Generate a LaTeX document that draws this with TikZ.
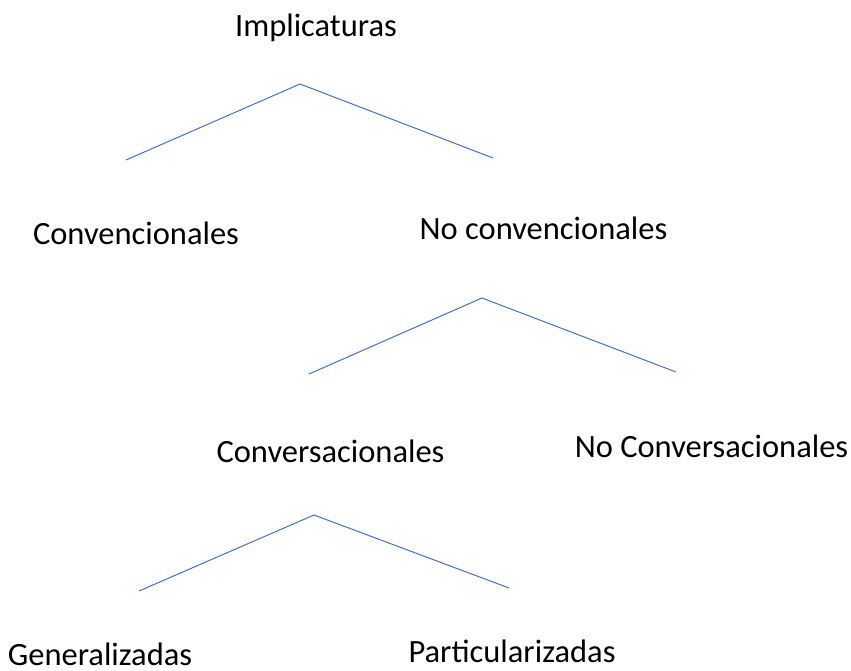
\documentclass[tikz,border=0pt]{standalone}
\usepackage{fontspec}
\setmainfont{Carlito}
\usepackage{xcolor}
\definecolor{ramaazul}{HTML}{4472C4}

\begin{document}
\begin{tikzpicture}[x=1pt,y=-1pt,
		termino/.style={font=\fontsize{32.5}{38}\selectfont,inner sep=0pt,anchor=base},
		rama/.style={draw=ramaazul,line width=1pt}]
			\useasboundingbox (0,0) rectangle (851,671);
			% terminos
			\node[termino] (impl) at (316,37) {Implicaturas};
			\node[termino] (conv) at (136,244) {Convencionales};
			\node[termino] (noconv) at (543.5,239) {No convencionales};
			\node[termino] (convers) at (330.5,462) {Conversacionales};
			\node[termino] (noconvers) at (711.5,457) {No Conversacionales};
			\node[termino] (gen) at (100,665) {Generalizadas};
			\node[termino] (part) at (512,662) {Particularizadas};
			% ramas
			\coordinate (implA) at (300,84);
			\coordinate (implI) at (126,160);
			\coordinate (implD) at (493,158);
			\coordinate (noconvA) at (482,298);
			\coordinate (noconvI) at (309,374);
			\coordinate (noconvD) at (676,372);
			\coordinate (conversA) at (314,515);
			\coordinate (conversI) at (139,591);
			\coordinate (conversD) at (509,588);
			\draw[rama] (implI) -- (implA) -- (implD);
			\draw[rama] (noconvI) -- (noconvA) -- (noconvD);
			\draw[rama] (conversI) -- (conversA) -- (conversD);
		\end{tikzpicture}
\end{document}
